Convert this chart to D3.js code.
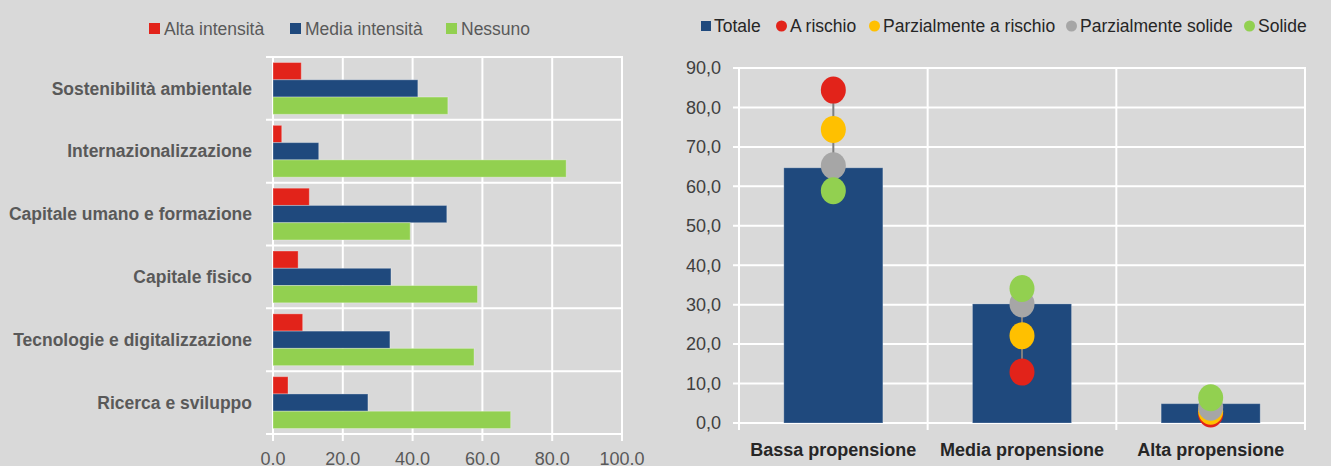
<!DOCTYPE html>
<html>
<head>
<meta charset="utf-8">
<script src="https://cdn.jsdelivr.net/npm/d3@7"></script>
<style>
  html, body { margin: 0; padding: 0; background: #d9d9d9; }
  svg { display: block; font-family: "Liberation Sans Narrow", "Arial Narrow", sans-serif; }
</style>
</head>
<body>
<svg width="1331" height="466"></svg>
<script>
// left chart data
var categories = ["Sostenibilità ambientale", "Internazionalizzazione", "Capitale umano e formazione",
                  "Capitale fisico", "Tecnologie e digitalizzazione", "Ricerca e sviluppo"];
var seriesNames = ["Alta intensità", "Media intensità", "Nessuno"];
var alta = [8.1, 2.5, 10.4, 7.2, 8.5, 4.3];
var media = [41.5, 13.1, 49.8, 33.8, 33.5, 27.2];
var nessuno = [50.1, 84.0, 39.3, 58.6, 57.6, 68.1];
var xTicks = [0, 20, 40, 60, 80, 100];

// right chart data
var groups = ["Bassa propensione", "Media propensione", "Alta propensione"];
var totale = [64.7, 30.2, 4.9];
var aRischio = [84.4, 12.9, 2.3];
var parzRischio = [74.4, 22.1, 3.0];
var parzSolide = [65.2, 30.2, 4.0];
var solide = [58.9, 34.1, 6.4];
var yTicks = [0, 10, 20, 30, 40, 50, 60, 70, 80, 90];

var RED = "#e2231a", BLUE = "#1f497d", GREEN = "#92d050", YELLOW = "#ffc000", GRAY = "#a6a6a6";

var svg = d3.select("svg");

// ---------- left: grouped horizontal bars ----------
(function() {
  var left = 273, right = 622, top = 57, bottom = 434;
  var x = d3.scaleLinear().domain([0, 100]).range([left, right]);
  var y0 = d3.scaleBand().domain(categories).range([top, bottom]);
  var y1 = d3.scaleBand().domain(seriesNames).range([0, y0.bandwidth()]).paddingOuter(0.32);
  var colors = d3.scaleOrdinal().domain(seriesNames).range([RED, BLUE, GREEN]);
  var vals = [alta, media, nessuno];

  var g = svg.append("g");

  // vertical grid
  g.selectAll(".vg").data(xTicks).enter().append("line")
    .attr("x1", function(d) { return x(d); }).attr("x2", function(d) { return x(d); })
    .attr("y1", top).attr("y2", bottom + 7)
    .attr("stroke", "#fff").attr("stroke-width", 2);
  // band separators (ticks on y axis)
  var seps = categories.map(function(c) { return y0(c); }).concat([bottom]);
  g.selectAll(".hs").data(seps).enter().append("line")
    .attr("x1", left - 7).attr("x2", right + 1)
    .attr("y1", function(d) { return d; }).attr("y2", function(d) { return d; })
    .attr("stroke", "#fff").attr("stroke-width", 2);

  var cat = g.selectAll(".cat").data(categories).enter().append("g")
    .attr("transform", function(d) { return "translate(0," + y0(d) + ")"; });
  cat.selectAll("rect")
    .data(function(d, i) { return seriesNames.map(function(s, j) { return { s: s, v: vals[j][i] }; }); })
    .enter().append("rect")
      .attr("x", x(0))
      .attr("y", function(d) { return y1(d.s); })
      .attr("width", function(d) { return x(d.v) - x(0); })
      .attr("height", y1.bandwidth())
      .attr("fill", function(d) { return colors(d.s); })
      .attr("stroke", "rgba(255,255,255,0.3)").attr("stroke-width", 1);

  cat.append("text")
    .attr("x", 252).attr("y", y0.bandwidth() / 2).attr("dy", "0.35em")
    .attr("text-anchor", "end").attr("font-weight", "bold").attr("font-size", 17.5)
    .attr("fill", "#595959")
    .text(function(d) { return d; });

  g.selectAll(".xt").data(xTicks).enter().append("text")
    .attr("x", function(d) { return x(d); }).attr("y", 459)
    .attr("dy", "0.35em").attr("text-anchor", "middle").attr("font-size", 18)
    .attr("fill", "#595959")
    .text(function(d) { return d3.format(".1f")(d); });

  // legend
  var legX = [149, 290, 446];
  var lg = g.selectAll(".lg").data(seriesNames).enter().append("g")
    .attr("transform", function(d, i) { return "translate(" + legX[i] + ",23)"; });
  lg.append("rect").attr("width", 11).attr("height", 11).attr("fill", function(d) { return colors(d); });
  lg.append("text").attr("x", 15).attr("y", 5.5).attr("dy", "0.35em").attr("font-size", 17.5)
    .attr("fill", "#595959").text(function(d) { return d; });
})();

// ---------- right: bars with dots ----------
(function() {
  var left = 739, right = 1305, top = 68, bottom = 423;
  var x = d3.scaleBand().domain(groups).range([left, right]).paddingInner(0.475).paddingOuter(0.2375);
  var xb = d3.scaleBand().domain(groups).range([left, right]);
  var y = d3.scaleLinear().domain([0, 90]).range([bottom, top]);
  var g = svg.append("g");

  g.selectAll(".hg").data(yTicks).enter().append("line")
    .attr("x1", left - 6).attr("x2", right + 1)
    .attr("y1", function(d) { return y(d); }).attr("y2", function(d) { return y(d); })
    .attr("stroke", "#fff").attr("stroke-width", 2);
  var vlines = groups.map(function(d) { return xb(d); }).concat([right]);
  g.selectAll(".vg").data(vlines).enter().append("line")
    .attr("x1", function(d) { return d; }).attr("x2", function(d) { return d; })
    .attr("y1", top).attr("y2", bottom + 7)
    .attr("stroke", "#fff").attr("stroke-width", 2);

  g.selectAll(".bar").data(totale).enter().append("rect")
    .attr("x", function(d, i) { return x(groups[i]); })
    .attr("y", function(d) { return y(d); })
    .attr("width", x.bandwidth())
    .attr("height", function(d) { return y(0) - y(d); })
    .attr("fill", BLUE)
    .attr("stroke", "rgba(255,255,255,0.25)").attr("stroke-width", 1);

  var dotSeries = [
    { name: "A rischio", color: RED, vals: aRischio },
    { name: "Parzialmente a rischio", color: YELLOW, vals: parzRischio },
    { name: "Parzialmente solide", color: GRAY, vals: parzSolide },
    { name: "Solide", color: GREEN, vals: solide }
  ];

  // high-low lines
  groups.forEach(function(gr, i) {
    var v = dotSeries.map(function(s) { return s.vals[i]; });
    g.append("line")
      .attr("x1", xb(gr) + xb.bandwidth() / 2).attr("x2", xb(gr) + xb.bandwidth() / 2)
      .attr("y1", y(d3.max(v))).attr("y2", y(d3.min(v)))
      .attr("stroke", "#7f7f7f").attr("stroke-width", 2);
  });

  dotSeries.forEach(function(s) {
    g.selectAll(null).data(s.vals).enter().append("ellipse")
      .attr("cx", function(d, i) { return xb(groups[i]) + xb.bandwidth() / 2; })
      .attr("cy", function(d) { return y(d); })
      .attr("rx", 12.5).attr("ry", 13.5)
      .attr("fill", s.color);
  });

  g.selectAll(".yt").data(yTicks).enter().append("text")
    .attr("x", 721).attr("y", function(d) { return y(d); }).attr("dy", "0.35em")
    .attr("text-anchor", "end").attr("font-size", 18).attr("fill", "#404040")
    .text(function(d) { return d3.format(".1f")(d).replace(".", ","); });

  g.selectAll(".xl").data(groups).enter().append("text")
    .attr("x", function(d) { return xb(d) + xb.bandwidth() / 2; }).attr("y", 450)
    .attr("dy", "0.35em").attr("text-anchor", "middle").attr("font-size", 18)
    .attr("font-weight", "bold").attr("fill", "#262626")
    .text(function(d) { return d; });

  // legend
  var legend = [{ name: "Totale", color: BLUE, sq: true }].concat(dotSeries);
  var legX = [701, 776, 869, 1066, 1244];
  var lg = g.selectAll(".lg").data(legend).enter().append("g")
    .attr("transform", function(d, i) { return "translate(" + legX[i] + ",26)"; });
  lg.each(function(d) {
    var e = d3.select(this);
    if (d.sq) e.append("rect").attr("y", -5).attr("width", 10).attr("height", 10).attr("fill", d.color);
    else e.append("circle").attr("cx", 5.5).attr("r", 5.5).attr("fill", d.color);
  });
  lg.append("text").attr("x", function(d) { return d.sq ? 13 : 14; }).attr("dy", "0.35em")
    .attr("font-size", 17.5).attr("fill", "#262626").text(function(d) { return d.name; });
})();
</script>
</body>
</html>
